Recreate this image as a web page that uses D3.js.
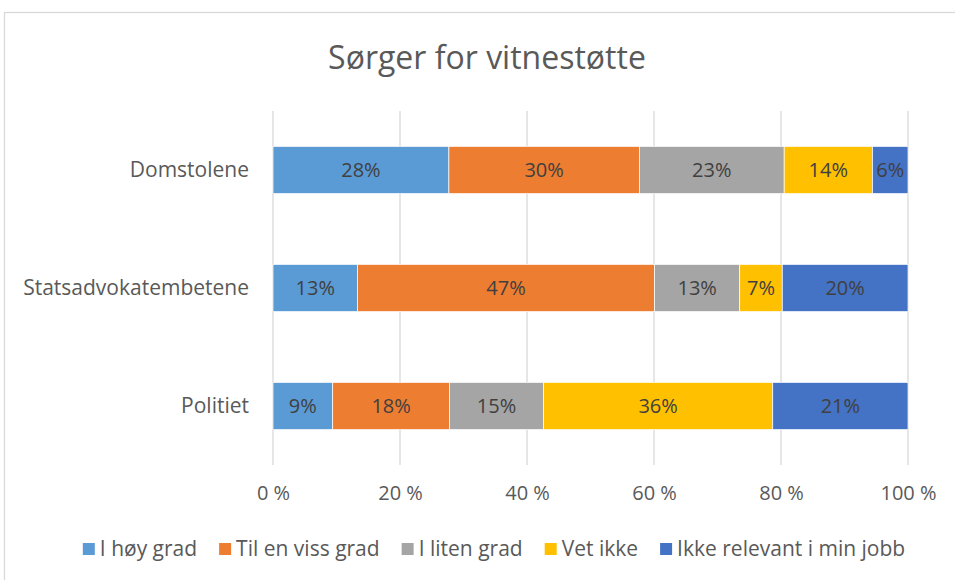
<!DOCTYPE html>
<html>
  <head>
    <meta charset="utf-8">
    <script src="https://cdnjs.cloudflare.com/ajax/libs/d3/7.8.5/d3.min.js"></script>
    <style type="text/css">
    body {
      margin: 0;
      background: white;
    }
    svg text {
      font-family: "Open Sans", "Liberation Sans", sans-serif;
    }
    .title {
      fill: #595959;
      font-size: 32px;
    }
    .axis path {
      display: none;
    }
    .axis line {
      stroke: none;
    }
    .axis text {
      fill: #595959;
      font-size: 20px;
    }
    .axis--y text {
      font-size: 21px;
    }
    .grid line {
      stroke: #d9d9d9;
      stroke-width: 1.3;
    }
    .label {
      fill: #404040;
      font-size: 20px;
    }
    .legend text {
      fill: #595959;
      font-size: 21px;
    }
    </style>
  </head>
  <body>
    <script type="text/javascript">
      // categories, top to bottom
      var categories = ["Domstolene", "Statsadvokatembetene", "Politiet"];
      var seriesNames = ["I høy grad", "Til en viss grad", "I liten grad", "Vet ikke", "Ikke relevant i min jobb"];
      var colors = ["#5B9BD5", "#ED7D31", "#A5A5A5", "#FFC000", "#4472C4"];
      // shares in percent, one array per series (same order as categories)
      var hoyGrad = [27.7, 13.3, 9.4];
      var vissGrad = [30.0, 46.8, 18.4];
      var litenGrad = [22.8, 13.4, 14.8];
      var vetIkke = [13.9, 6.7, 36.1];
      var ikkeRelevant = [5.6, 19.8, 21.3];
      var xTicks = [0, 20, 40, 60, 80, 100];

      var w = 955;
      var h = 580;
      var margin = {left: 273, right: 47, top: 111, bottom: 115};

      var svg = d3.select("body")
                  .append("svg")
                  .attr("width", w)
                  .attr("height", h);

      // chart border
      svg.append("rect")
         .attr("x", 4.5)
         .attr("y", 12.5)
         .attr("width", 1000)
         .attr("height", 700)
         .attr("fill", "white")
         .attr("stroke", "#d9d9d9")
         .attr("stroke-width", 1.3);

      svg.append("text")
         .attr("class", "title")
         .attr("x", 487)
         .attr("y", 69)
         .attr("text-anchor", "middle")
         .text("Sørger for vitnestøtte");

      // build rows for the stack
      var series = [hoyGrad, vissGrad, litenGrad, vetIkke, ikkeRelevant];
      var rows = categories.map(function(c, i) {
        var row = {cat: c};
        seriesNames.forEach(function(s, j) { row[s] = series[j][i]; });
        return row;
      });
      var stack = d3.stack().keys(seriesNames)(rows);

      var xScale = d3.scaleLinear()
                     .domain([0, 100])
                     .range([margin.left, w - margin.right]);
      var yScale = d3.scaleBand()
                     .domain(categories)
                     .range([margin.top, h - margin.bottom])
                     .paddingInner(0.6)
                     .paddingOuter(0.3);

      // gridlines
      svg.append("g")
         .attr("class", "grid")
         .selectAll("line")
         .data(xTicks)
         .enter()
         .append("line")
           .attr("x1", function(d) { return xScale(d); })
           .attr("x2", function(d) { return xScale(d); })
           .attr("y1", margin.top)
           .attr("y2", h - margin.bottom);

      // axes
      var xAxis = d3.axisBottom(xScale)
                    .tickValues(xTicks)
                    .tickSize(0)
                    .tickPadding(21)
                    .tickFormat(function(d) { return d + " %"; });
      svg.append("g")
         .attr("class", "axis")
         .attr("transform", "translate(0," + (h - margin.bottom) + ")")
         .call(xAxis);

      var yAxis = d3.axisLeft(yScale)
                    .tickSize(0)
                    .tickPadding(24);
      svg.append("g")
         .attr("class", "axis axis--y")
         .attr("transform", "translate(" + margin.left + ",0)")
         .call(yAxis);

      // bars
      var layers = svg.selectAll(".layer")
                      .data(stack)
                      .enter()
                      .append("g")
                        .attr("class", "layer")
                        .attr("fill", function(d, i) { return colors[i]; });

      layers.selectAll("rect")
            .data(function(d) { return d; })
            .enter()
            .append("rect")
              .attr("x", function(d) { return xScale(d[0]); })
              .attr("y", function(d) { return yScale(d.data.cat); })
              .attr("width", function(d) { return xScale(d[1]) - xScale(d[0]); })
              .attr("height", yScale.bandwidth())
              .attr("stroke", "white")
              .attr("stroke-width", 0.7);

      layers.selectAll("text")
            .data(function(d) { return d; })
            .enter()
            .append("text")
              .attr("class", "label")
              .attr("x", function(d) { return (xScale(d[0]) + xScale(d[1])) / 2; })
              .attr("y", function(d) { return yScale(d.data.cat) + yScale.bandwidth() / 2; })
              .attr("dy", "0.35em")
              .attr("text-anchor", "middle")
              .text(function(d) { return Math.round(d[1] - d[0]) + "%"; });

      // legend, centred below the plot
      var legend = svg.append("g").attr("class", "legend");
      var items = legend.selectAll("g")
                        .data(seriesNames)
                        .enter()
                        .append("g");
      items.append("rect")
           .attr("width", 12)
           .attr("height", 12)
           .attr("y", -6)
           .attr("fill", function(d, i) { return colors[i]; });
      items.append("text")
           .attr("x", 17)
           .attr("dy", "0.35em")
           .text(function(d) { return d; });

      var pos = 0;
      items.each(function() {
        var tw = d3.select(this).select("text").node().getComputedTextLength();
        d3.select(this).attr("transform", "translate(" + pos + ",0)");
        pos += 17 + tw + 22;
      });
      var total = pos - 22;
      legend.attr("transform", "translate(" + (494 - total / 2) + ",549)");
    </script>
  </body>
</html>
